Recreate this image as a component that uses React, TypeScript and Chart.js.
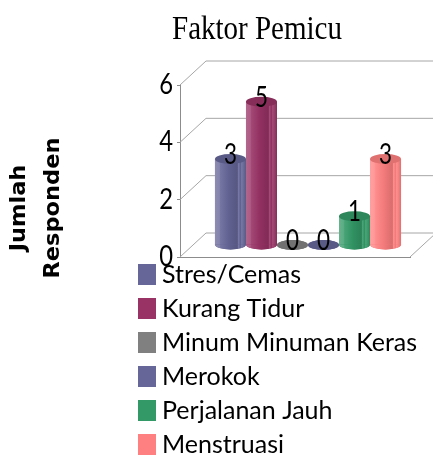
import React, { useEffect, useRef } from "react";
import { Chart, registerables } from "chart.js";

Chart.register(...registerables);

const chartTitle = "Faktor Pemicu";
const axisTitle = ["Jumlah", "Responden"];
const categories = ["Faktor Pemicu"];
const seriesNames = ["Stres/Cemas", "Kurang Tidur", "Minum Minuman Keras", "Merokok", "Perjalanan Jauh", "Menstruasi"];
const seriesValues = [3, 5, 0, 0, 1, 3];
const seriesColors = ["#666699", "#993366", "#808080", "#666699", "#339966", "#FF8080"];
const yTicks = [0, 2, 4, 6];

const FONT = "Lato";
const BAR_DX = 13;
const BAR_DY = -12;
const WALL_DX = 26;
const WALL_DY = -24;
const CAP_RY = 5;

function shade(hex: string, amt: number) {
  const n = parseInt(hex.slice(1), 16);
  const t = amt < 0 ? 0 : 255;
  const a = Math.abs(amt);
  const f = (v: number) => Math.round(v + (t - v) * a);
  return `rgb(${f((n >> 16) & 255)},${f((n >> 8) & 255)},${f(n & 255)})`;
}

const scenePlugin = {
  id: "scene",
  afterLayout(chart: any) {
    const t = chart.titleBlock;
    if (t) {
      t.left = 172;
      t.right = 342;
      t.top = 10;
      t.bottom = 51;
    }
    const l = chart.legend;
    if (l) {
      l.maxHeight = 300;
      l.maxWidth = 400;
      l.fit();
      l.left = 135.5;
      l.top = 253;
      l.right = 433;
      l.bottom = 700;
      l.width = 297.5;
      l.height = 447;
    }
    const y = chart.scales.y;
    if (!y._shifted) {
      y._shifted = true;
      const origTitle = y.drawTitle;
      y.drawTitle = function () {
        const ctx = this.ctx;
        ctx.save();
        ctx.translate(0, 37);
        ctx.scale(0.92, 1);
        origTitle.call(this);
        ctx.restore();
      };
      const origLabels = y.drawLabels;
      y.drawLabels = function (area: any) {
        const ctx = this.ctx;
        ctx.save();
        ctx.translate(173, 0);
        ctx.scale(0.85, 1);
        ctx.translate(-173, 0);
        origLabels.call(this, area);
        ctx.restore();
      };
    }
  },
  beforeDatasetsDraw(chart: any) {
    const { ctx, chartArea: a, scales } = chart;
    const y = scales.y;
    ctx.save();
    ctx.lineWidth = 1;
    ctx.strokeStyle = "#a6a6a6";
    yTicks.forEach((v) => {
      const py = y.getPixelForValue(v);
      ctx.beginPath();
      ctx.moveTo(a.left, py);
      ctx.lineTo(a.left + WALL_DX, py + WALL_DY);
      ctx.lineTo(433, py + WALL_DY);
      ctx.stroke();
    });
    ctx.beginPath();
    ctx.moveTo(a.right, a.bottom);
    ctx.lineTo(a.right + WALL_DX, a.bottom + WALL_DY);
    ctx.stroke();
    ctx.restore();
    ctx.save();
    ctx.translate(BAR_DX, BAR_DY);
  },
  beforeDatasetDraw(chart: any, args: any) {
    const { ctx } = chart;
    const el = args.meta.data[0];
    const color = seriesColors[args.index];
    ctx.save();
    ctx.fillStyle = shade(color, -0.1);
    ctx.beginPath();
    ctx.ellipse(el.x, el.base, el.width / 2, CAP_RY, 0, 0, Math.PI * 2);
    ctx.fill();
    ctx.restore();
  },
  afterDatasetDraw(chart: any, args: any) {
    const { ctx } = chart;
    const el = args.meta.data[0];
    const color = seriesColors[args.index];
    const x0 = el.x - el.width / 2;
    const w = el.width;
    ctx.save();
    if (el.base - el.y > 0.5) {
      const g = ctx.createLinearGradient(x0, 0, x0 + w, 0);
      g.addColorStop(0, shade(color, 0.25));
      g.addColorStop(0.14, shade(color, 0.2));
      g.addColorStop(0.18, shade(color, 0.1));
      g.addColorStop(0.45, shade(color, -0.05));
      g.addColorStop(0.72, shade(color, -0.15));
      g.addColorStop(0.76, shade(color, 0.12));
      g.addColorStop(0.82, shade(color, -0.05));
      g.addColorStop(0.86, shade(color, 0.12));
      g.addColorStop(1, shade(color, -0.12));
      ctx.fillStyle = g;
      ctx.fillRect(x0, el.y, w, el.base - el.y);
      ctx.beginPath();
      ctx.ellipse(el.x, el.base, w / 2, CAP_RY, 0, 0, Math.PI);
      ctx.fill();
    }
    ctx.fillStyle = shade(color, -0.12);
    ctx.beginPath();
    ctx.ellipse(el.x, el.y, w / 2, CAP_RY, 0, 0, Math.PI * 2);
    ctx.fill();
    ctx.restore();
  },
  afterDatasetsDraw(chart: any) {
    const { ctx } = chart;
    chart.data.datasets.forEach((ds: any, i: number) => {
      const el = chart.getDatasetMeta(i).data[0];
      ctx.save();
      ctx.fillStyle = "#000";
      ctx.font = `28px ${FONT}`;
      ctx.textAlign = "center";
      ctx.textBaseline = "middle";
      ctx.fillText(String(ds.data[0]), el.x, el.y - 4, 13);
      ctx.restore();
    });
    ctx.restore();
  },
};

export default function App() {
  const ref = useRef<HTMLCanvasElement>(null);
  useEffect(() => {
    const chart = new Chart(ref.current as HTMLCanvasElement, {
      type: "bar",
      data: {
        labels: categories,
        datasets: seriesNames.map((name, i) => ({
          label: name,
          data: [seriesValues[i]],
          backgroundColor: seriesColors[i],
          borderWidth: 0,
          categoryPercentage: 0.809,
          barPercentage: 1,
          clip: false as any,
        })),
      },
      options: {
        responsive: false,
        animation: false,
        layout: { padding: { top: 44.2, bottom: 199, right: 23, left: 0 } },
        plugins: {
          tooltip: { enabled: false },
          title: {
            display: true,
            text: chartTitle,
            color: "#000",
            padding: 0,
            font: { family: "Liberation Serif", size: 34, weight: "normal", lineHeight: 1.2 },
          },
          legend: {
            display: true,
            position: "chartArea" as any,
            align: "start",
            labels: {
              color: "#000",
              boxWidth: 5,
              boxHeight: 8,
              padding: 9,
              font: { family: FONT, size: 25, lineHeight: 1 },
              generateLabels: (c: any) =>
                Chart.defaults.plugins.legend.labels.generateLabels(c).map((it: any) => ({
                  ...it,
                  strokeStyle: it.fillStyle,
                  lineWidth: 13,
                })),
            },
          },
        },
        scales: {
          x: {
            grid: { display: false },
            border: { display: true, color: "#8c8c8c" },
            ticks: { display: false },
            afterFit: (s: any) => {
              s.height = 0;
            },
          },
          y: {
            min: 0,
            max: 6,
            afterFit: (s: any) => {
              s.width = 180;
            },
            afterBuildTicks: (s: any) => {
              s.ticks = yTicks.map((v) => ({ value: v }));
            },
            grid: { drawOnChartArea: false, drawTicks: true, tickLength: 3, color: "#8c8c8c" },
            border: { display: true, color: "#8c8c8c" },
            ticks: {
              color: "#000",
              padding: 4,
              font: { family: FONT, size: 28 },
            },
            title: {
              display: true,
              text: axisTitle,
              color: "#000",
              padding: { top: 3.2, bottom: 0 },
              font: { family: "DejaVu Sans", size: 22.5, weight: "bold", lineHeight: 1.64 },
            },
          },
        },
      },
      plugins: [scenePlugin],
    } as any);
    return () => chart.destroy();
  }, []);
  return (
    <div style={{ position: "absolute", left: 0, top: 0, width: 433, height: 456 }}>
      <canvas ref={ref} width={433} height={456} style={{ display: "block" }} />
    </div>
  );
}
